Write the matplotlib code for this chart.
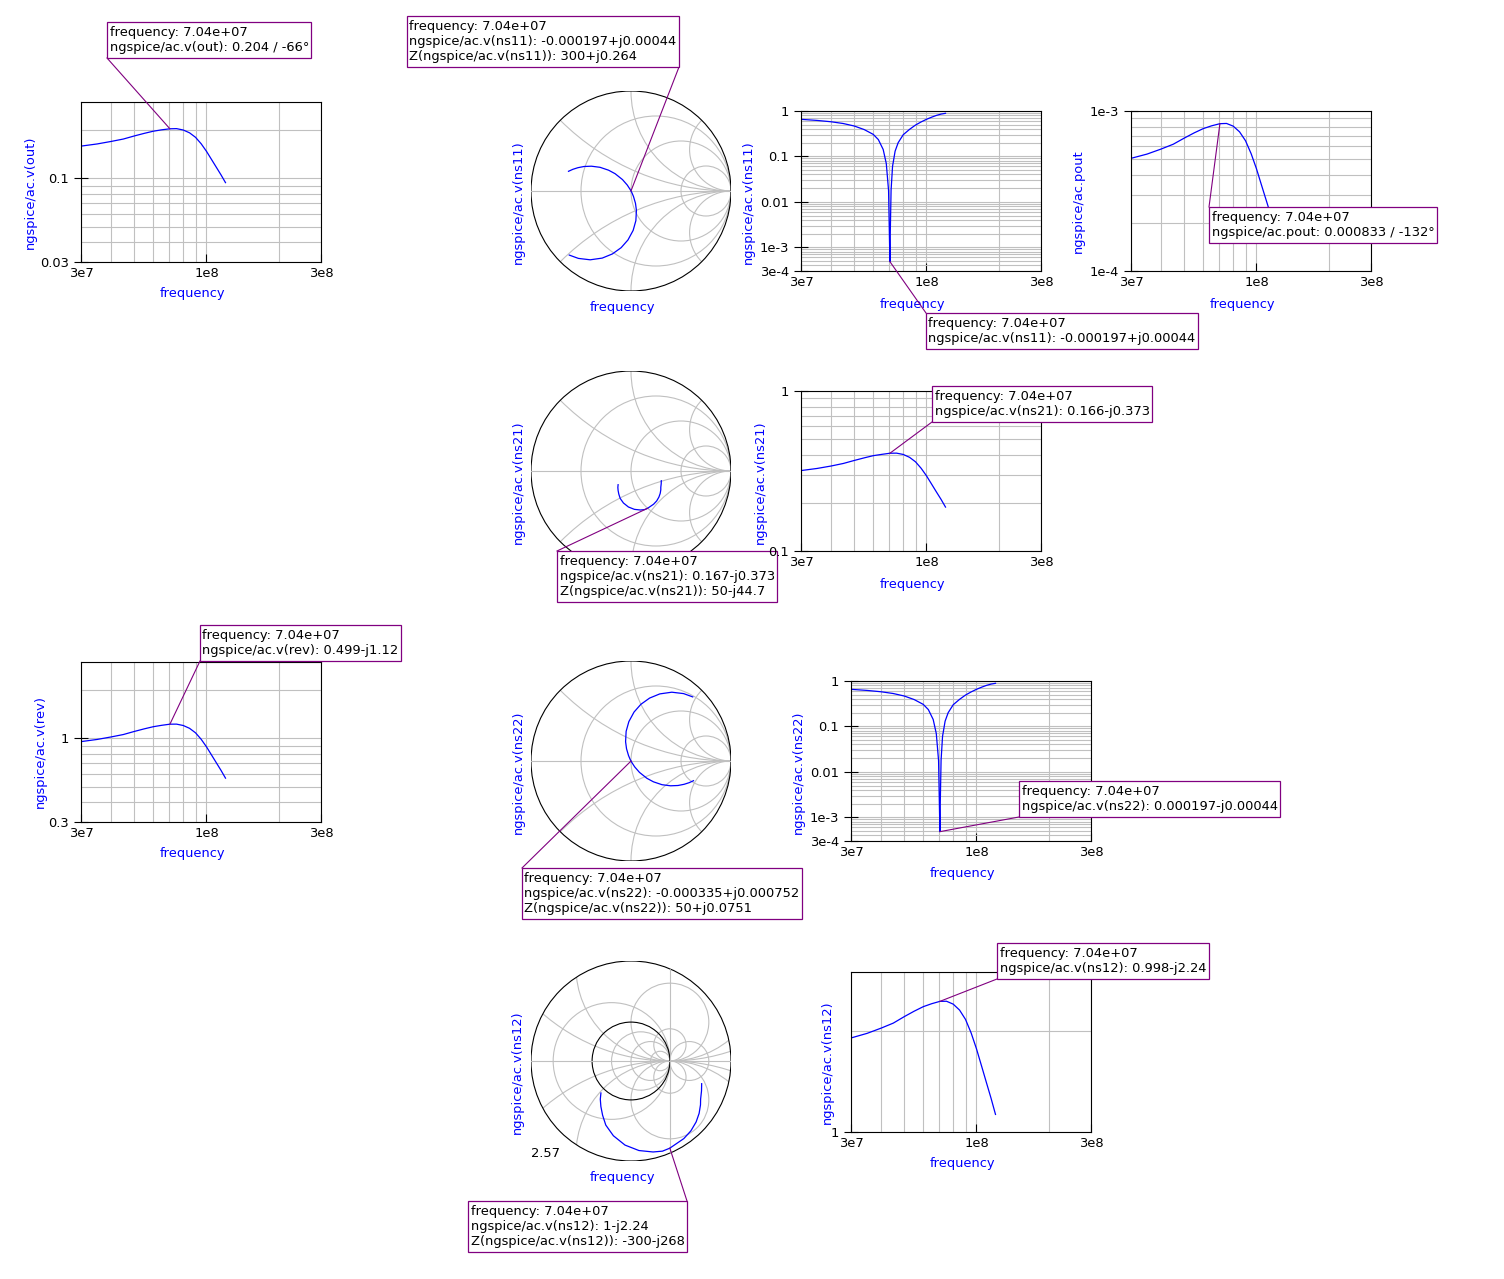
import numpy as np
import matplotlib
matplotlib.use("Agg")
import matplotlib.pyplot as plt
from matplotlib.patches import Circle, Rectangle
from matplotlib.lines import Line2D
from matplotlib.ticker import FixedLocator, FixedFormatter, NullFormatter, LogLocator

W, H = 1504, 1279
BLUE = "#0000ff"
PURPLE = "#800080"
GRID = "#c0c0c0"

plt.rcParams["font.family"] = ["DejaVu Sans"]
plt.rcParams["font.size"] = 9.35

# cursor frequency shown in every readout box
MARK_F = 7.04e7

# sweep used by out / pout / rev / ns21 / ns12 (Hz)
freq = [3e7, 3.5e7, 4e7, 4.5e7, 5e7, 5.5e7, 6e7, 6.5e7, 7.04e7, 7.5e7,
        8e7, 8.5e7, 9e7, 9.5e7, 1e8, 1.05e8, 1.1e8, 1.15e8, 1.2e8]
out_mag = [0.159, 0.164, 0.170, 0.176, 0.184, 0.191, 0.197, 0.201, 0.204, 0.2045,
           0.2005, 0.1925, 0.1805, 0.1645, 0.1475, 0.131, 0.117, 0.105, 0.094]
pout_mag = [5.06e-4, 5.38e-4, 5.78e-4, 6.20e-4, 6.77e-4, 7.30e-4, 7.76e-4, 8.08e-4, 8.33e-4, 8.36e-4,
            8.04e-4, 7.41e-4, 6.52e-4, 5.41e-4, 4.35e-4, 3.43e-4, 2.74e-4, 2.21e-4, 1.77e-4]
rev_mag = [0.954, 0.984, 1.020, 1.056, 1.104, 1.146, 1.182, 1.206, 1.226, 1.227,
           1.203, 1.155, 1.083, 0.987, 0.885, 0.786, 0.702, 0.630, 0.564]
ns21_re = [0.303, 0.302, 0.298, 0.298, 0.292, 0.279, 0.257, 0.226, 0.166, 0.135,
           0.0945, 0.034, -0.0257, -0.0755, -0.108, -0.1217, -0.129, -0.1315, -0.129]
ns21_im = [-0.0972, -0.128, -0.163, -0.188, -0.224, -0.261, -0.299, -0.332, -0.373, -0.386,
           -0.390, -0.3835, -0.360, -0.320, -0.2745, -0.232, -0.195, -0.164, -0.137]
ns12_re = [1.816, 1.812, 1.789, 1.786, 1.751, 1.674, 1.540, 1.358, 0.998, 0.809,
           0.567, 0.204, -0.154, -0.453, -0.648, -0.730, -0.774, -0.789, -0.773]
ns12_im = [-0.583, -0.769, -0.980, -1.127, -1.345, -1.566, -1.794, -1.994, -2.240, -2.317,
           -2.338, -2.301, -2.161, -1.921, -1.647, -1.393, -1.171, -0.983, -0.822]

# finer sweep around the match for the reflection ports
f11 = [3e7, 3.5e7, 4e7, 4.5e7, 5e7, 5.5e7, 6e7, 6.3e7, 6.6e7, 6.8e7, 6.95e7, 7.04e7, 7.06e7,
       7.12e7, 7.22e7, 7.4e7, 7.62e7, 8e7, 8.5e7, 9e7, 9.5e7, 1e8, 1.05e8, 1.1e8, 1.15e8, 1.2e8]
ns11_re = [-0.625, -0.581, -0.531, -0.470, -0.396, -0.310, -0.224, -0.159, -0.085, -0.037, -0.0087,
           -0.000197, 0.00082, 0.0084, 0.0249, 0.0447, 0.0542, 0.0487, 0.0215, -0.0303, -0.0986,
           -0.1861, -0.288, -0.408, -0.526, -0.617]
ns11_im = [0.197, 0.217, 0.233, 0.245, 0.248, 0.237, 0.208, 0.173, 0.114, 0.059, 0.0154,
           0.00044, -0.00154, -0.0159, -0.0549, -0.1225, -0.1929, -0.2964, -0.3938, -0.4894, -0.5667,
           -0.6293, -0.671, -0.688, -0.674, -0.641]
ns22_re = [0.625, 0.581, 0.531, 0.470, 0.396, 0.310, 0.224, 0.159, 0.085, 0.037, 0.0087,
           0.000197, -0.00082, -0.0084, -0.0249, -0.0447, -0.0542, -0.0487, -0.0215, 0.0303, 0.0986,
           0.1861, 0.288, 0.408, 0.526, 0.617]
ns22_im = [-0.197, -0.217, -0.233, -0.245, -0.248, -0.237, -0.208, -0.173, -0.114, -0.059, -0.0154,
           -0.00044, 0.00154, 0.0159, 0.0549, 0.1225, 0.1929, 0.2964, 0.3938, 0.4894, 0.5667,
           0.6293, 0.671, 0.688, 0.674, 0.641]

# axis ticks
x_ticks = [3e7, 1e8, 3e8]
x_tick_labels = ["3e7", "1e8", "3e8"]
out_yticks, out_ylabels = [0.03, 0.1], ["0.03", "0.1"]
refl_yticks, refl_ylabels = [3e-4, 1e-3, 0.01, 0.1, 1], ["3e-4", "1e-3", "0.01", "0.1", "1"]
pout_yticks, pout_ylabels = [1e-4, 1e-3], ["1e-4", "1e-3"]
ns21_yticks, ns21_ylabels = [0.1, 1], ["0.1", "1"]
rev_yticks, rev_ylabels = [0.3, 1], ["0.3", "1"]
ns12_yticks, ns12_ylabels = [1], ["1"]

# smith chart grid (normalised resistance / reactance values)
smith_r = [1 / 3, 1, 3]
smith_x = [np.tan(np.pi / 8), 1, np.tan(3 * np.pi / 8)]
wide_r = [-3, -1 / 3, 1 / 3, 1, 3]
wide_x = [0.2, np.tan(np.pi / 8), 1, np.tan(3 * np.pi / 8)]

fig = plt.figure(figsize=(W / 100, H / 100), dpi=100)
renderer = fig.canvas.get_renderer()
panel_no = [0]


def px_axes(l, t, r, b):
    ax = fig.add_axes([l / W, 1 - b / H, (r - l) / W, (b - t) / H])
    panel_no[0] += 1
    ax.set_zorder(panel_no[0])
    return ax


def place_labels(ax, ylab, xpos, ypos):
    if xpos is not None:
        ax.set_xlabel("frequency", color=BLUE, va="center")
        ax.xaxis.set_label_coords(xpos[0] / W, 1 - xpos[1] / H, transform=fig.transFigure)
    ax.set_ylabel(ylab, color=BLUE, va="center")
    ax.yaxis.set_label_coords(ypos[0] / W, 1 - ypos[1] / H, transform=fig.transFigure)


PAD_X, PAD_Y = 2.5, 4.0


def cursor(ax, xy, text, corner, where):
    # corner: picture pixel of the box corner that the leader line reaches
    z = ax.get_zorder()
    cx, cy = corner[0], H - corner[1]
    left = where[1] == "l"
    bottom = where[0] == "b"
    tx = cx + (PAD_X if left else -PAD_X)
    ty = cy + (PAD_Y if bottom else -PAD_Y)
    t = fig.text(tx / W, ty / H, text, ha="left" if left else "right",
                 va="bottom" if bottom else "top", multialignment="left",
                 color="black", zorder=z + 0.3)
    bb = t.get_window_extent(renderer=renderer)
    fig.add_artist(Rectangle(((bb.x0 - PAD_X) / W, (bb.y0 - PAD_Y) / H),
                             (bb.width + 2 * PAD_X) / W, (bb.height + 2 * PAD_Y) / H,
                             transform=fig.transFigure, fc="white", ec=PURPLE, lw=0.9, zorder=z + 0.2))
    px, py = ax.transData.transform(xy)
    fig.add_artist(Line2D([px / W, cx / W], [py / H, cy / H], transform=fig.transFigure,
                          color=PURPLE, lw=0.8, zorder=z + 0.1))


def log_panel(rect, f, mag, ylim, yticks, ylabels, ylab, xpos, ypos):
    ax = px_axes(*rect)
    ax.set_xscale("log")
    ax.set_yscale("log")
    ax.plot(f, mag, color=BLUE, lw=0.9)
    ax.xaxis.set_major_locator(FixedLocator(x_ticks))
    ax.xaxis.set_major_formatter(FixedFormatter(x_tick_labels))
    ax.xaxis.set_minor_locator(LogLocator(10, subs=np.arange(2, 10)))
    ax.xaxis.set_minor_formatter(NullFormatter())
    ax.yaxis.set_major_locator(FixedLocator(yticks))
    ax.yaxis.set_major_formatter(FixedFormatter(ylabels))
    ax.yaxis.set_minor_locator(LogLocator(10, subs=np.arange(2, 10)))
    ax.yaxis.set_minor_formatter(NullFormatter())
    ax.set_xlim(3e7, 3e8)
    ax.set_ylim(*ylim)
    ax.grid(True, which="both", color=GRID, lw=0.8)
    ax.set_axisbelow(True)
    ax.tick_params(which="minor", length=0)
    ax.tick_params(axis="x", which="major", direction="in", length=6, width=0.8)
    ax.tick_params(axis="y", which="major", direction="inout", length=10, width=0.8)
    for s in ax.spines.values():
        s.set_linewidth(0.8)
    place_labels(ax, ylab, xpos, ypos)
    return ax


def smith_panel(rect, re, im, scale, ylab, xpos, ypos, wide=False):
    ax = px_axes(*rect)
    ax.set_xlim(-scale, scale)
    ax.set_ylim(-scale, scale)
    ax.set_aspect("equal")
    ax.set_xticks([])
    ax.set_yticks([])
    for s in ax.spines.values():
        s.set_visible(False)
    ax.patch.set_visible(False)
    clip = Circle((0, 0), scale, transform=ax.transData)
    gl = dict(fill=False, ec=GRID, lw=0.8)
    rs = wide_r if wide else smith_r
    xs = wide_x if wide else smith_x
    for r in rs:
        c = Circle((r / (1 + r), 0), abs(1 / (1 + r)), **gl)
        ax.add_patch(c)
        c.set_clip_path(clip)
    for x in xs:
        for sgn in (1, -1):
            c = Circle((1, sgn / x), 1 / x, **gl)
            ax.add_patch(c)
            c.set_clip_path(clip)
    ax.plot([-scale, scale], [0, 0], color=GRID, lw=0.8)
    if wide:
        ln, = ax.plot([1, 1], [-scale, scale], color=GRID, lw=0.8)
        ln.set_clip_path(clip)
        ax.add_patch(Circle((0, 0), 1, fill=False, ec="black", lw=0.8))
        ax.text(0.0, 0.02, f"{scale:.2f}", transform=ax.transAxes, ha="left", va="baseline")
    ax.add_patch(Circle((0, 0), scale, fill=False, ec="black", lw=0.8))
    ax.plot(re, im, color=BLUE, lw=0.9)
    place_labels(ax, ylab, xpos, ypos)
    return ax


i = freq.index(MARK_F)
j = f11.index(MARK_F)
ns11_abs = np.hypot(ns11_re, ns11_im)
ns22_abs = np.hypot(ns22_re, ns22_im)
ns21_abs = np.hypot(ns21_re, ns21_im)
ns12_abs = np.hypot(ns12_re, ns12_im)

# row 1
ax = log_panel((81, 102, 321, 262), freq, out_mag, (0.03, 0.3), out_yticks, out_ylabels,
               "ngspice/ac.v(out)", (193, 293), (30, 192))
cursor(ax, (MARK_F, out_mag[i]), "frequency: 7.04e+07\nngspice/ac.v(out): 0.204 / -66°", (107, 58), "bl")

ax = smith_panel((531, 91, 731, 291), ns11_re, ns11_im, 1.0, "ngspice/ac.v(ns11)", (623, 308), (518, 202))
cursor(ax, (ns11_re[j], ns11_im[j]),
       "frequency: 7.04e+07\nngspice/ac.v(ns11): -0.000197+j0.00044\nZ(ngspice/ac.v(ns11)): 300+j0.264",
       (679, 67), "br")

ax = log_panel((801, 111, 1041, 271), f11, ns11_abs, (3e-4, 1), refl_yticks, refl_ylabels,
               "ngspice/ac.v(ns11)", (913, 304), (748, 202))
cursor(ax, (MARK_F, ns11_abs[j]), "frequency: 7.04e+07\nngspice/ac.v(ns11): -0.000197+j0.00044",
       (926, 313), "tl")

ax = log_panel((1131, 111, 1371, 271), freq, pout_mag, (1e-4, 1e-3), pout_yticks, pout_ylabels,
               "ngspice/ac.pout", (1243, 304), (1078, 201))
cursor(ax, (MARK_F, pout_mag[i]), "frequency: 7.04e+07\nngspice/ac.pout: 0.000833 / -132°", (1209, 207), "tl")

# row 2 (the smith x label sits under the readout box)
ax = smith_panel((531, 371, 731, 571), ns21_re, ns21_im, 1.0, "ngspice/ac.v(ns21)", None, (518, 482))
cursor(ax, (ns21_re[i], ns21_im[i]),
       "frequency: 7.04e+07\nngspice/ac.v(ns21): 0.167-j0.373\nZ(ngspice/ac.v(ns21)): 50-j44.7",
       (557, 551), "tl")

ax = log_panel((801, 391, 1041, 551), freq, ns21_abs, (0.1, 1), ns21_yticks, ns21_ylabels,
               "ngspice/ac.v(ns21)", (913, 584), (760, 482))
cursor(ax, (MARK_F, ns21_abs[i]), "frequency: 7.04e+07\nngspice/ac.v(ns21): 0.166-j0.373", (932, 422), "bl")

# row 3
ax = log_panel((81, 662, 321, 822), freq, rev_mag, (0.3, 3), rev_yticks, rev_ylabels,
               "ngspice/ac.v(rev)", (193, 854), (40, 752))
cursor(ax, (MARK_F, rev_mag[i]), "frequency: 7.04e+07\nngspice/ac.v(rev): 0.499-j1.12", (200, 661), "bl")

ax = smith_panel((531, 661, 731, 861), ns22_re, ns22_im, 1.0, "ngspice/ac.v(ns22)", None, (518, 772))
cursor(ax, (ns22_re[j], ns22_im[j]),
       "frequency: 7.04e+07\nngspice/ac.v(ns22): -0.000335+j0.000752\nZ(ngspice/ac.v(ns22)): 50+j0.0751",
       (522, 868), "tl")

ax = log_panel((851, 681, 1091, 841), f11, ns22_abs, (3e-4, 1), refl_yticks, refl_ylabels,
               "ngspice/ac.v(ns22)", (963, 874), (798, 772))
cursor(ax, (MARK_F, ns22_abs[j]), "frequency: 7.04e+07\nngspice/ac.v(ns22): 0.000197-j0.00044",
       (1019, 817), "bl")

# row 4
ax = smith_panel((531, 961, 731, 1161), ns12_re, ns12_im, 2.57, "ngspice/ac.v(ns12)", (623, 1177), (517, 1072),
                 wide=True)
cursor(ax, (ns12_re[i], ns12_im[i]),
       "frequency: 7.04e+07\nngspice/ac.v(ns12): 1-j2.24\nZ(ngspice/ac.v(ns12)): -300-j268",
       (687, 1201), "tr")

ax = log_panel((851, 972, 1091, 1132), freq, ns12_abs, (1, 3), ns12_yticks, ns12_ylabels,
               "ngspice/ac.v(ns12)", (963, 1164), (827, 1062))
cursor(ax, (MARK_F, ns12_abs[i]), "frequency: 7.04e+07\nngspice/ac.v(ns12): 0.998-j2.24", (997, 979), "bl")

fig.savefig("out.png", dpi=100, facecolor="white")
